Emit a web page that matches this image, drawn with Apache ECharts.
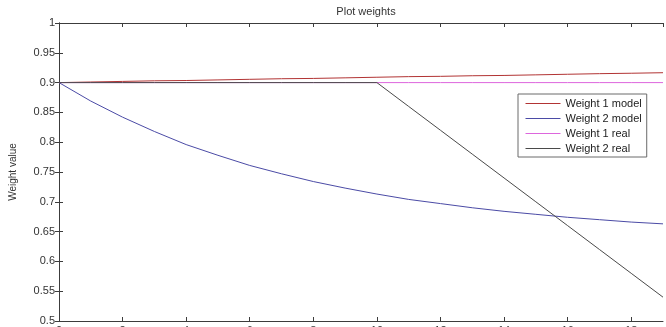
<!DOCTYPE html>
<html>
<head>
<meta charset="utf-8">
<script src="https://cdn.jsdelivr.net/npm/echarts@6/dist/echarts.min.js"></script>
<style>
  html, body { margin: 0; padding: 0; background: #fff; }
</style>
</head>
<body>
<div id="chart" style="width: 666px; height: 327px;"></div>
<script>
// x positions (step index)
var steps = [0, 1, 2, 3, 4, 5, 6, 7, 8, 9, 10, 11, 12, 13, 14, 15, 16, 17, 18, 19];

// values
var weight1Model = [0.900, 0.901, 0.902, 0.903, 0.9035, 0.9045, 0.9055, 0.9065, 0.907, 0.908,
                    0.909, 0.910, 0.9105, 0.9115, 0.912, 0.913, 0.914, 0.915, 0.9157, 0.9166];
var weight2Model = [0.900, 0.869, 0.842, 0.818, 0.796, 0.778, 0.761, 0.747, 0.734, 0.723,
                    0.713, 0.704, 0.697, 0.690, 0.684, 0.679, 0.674, 0.670, 0.666, 0.663];
var weight1Real = [0.9, 0.9, 0.9, 0.9, 0.9, 0.9, 0.9, 0.9, 0.9, 0.9,
                   0.9, 0.9, 0.9, 0.9, 0.9, 0.9, 0.9, 0.9, 0.9, 0.9];
var weight2Real = [0.9, 0.9, 0.9, 0.9, 0.9, 0.9, 0.9, 0.9, 0.9, 0.9,
                   0.9, 0.86, 0.82, 0.78, 0.74, 0.70, 0.66, 0.62, 0.58, 0.54];

var seriesNames = ["Weight 1 model", "Weight 2 model", "Weight 1 real", "Weight 2 real"];
var seriesColors = ["#b23434", "#4b4ba6", "#dd66dd", "#4a4a4a"];

function pairs(ys) {
  return steps.map(function (x, i) { return [x, ys[i]]; });
}

var font = "'Liberation Sans', Arial, sans-serif";
var frameColor = "#3c3c3c";

var chart = echarts.init(document.getElementById("chart"));

function line(name, ys, i) {
  return {
    name: name,
    type: "line",
    data: pairs(ys),
    symbol: "none",
    smooth: false,
    animation: false,
    lineStyle: { color: seriesColors[i], width: 1 },
    itemStyle: { color: seriesColors[i] },
  };
}

var legendItems = seriesNames.map(function (n, i) {
  return {
    name: n,
    lineStyle: { color: seriesColors[i], width: 1 },
    itemStyle: { color: seriesColors[i], opacity: 0 },
  };
});

chart.setOption({
  animation: false,
  backgroundColor: "#fff",
  title: {
    text: "Plot weights",
    left: 361,
    textAlign: "center",
    top: 1,
    textStyle: { fontFamily: font, fontSize: 11, fontWeight: "normal", color: "#333" },
  },
  legend: {
    data: legendItems,
    orient: "vertical",
    left: 518,
    top: 94,
    itemWidth: 35,
    itemHeight: 11,
    itemGap: 4,
    padding: [4, 5, 3, 7],
    borderColor: "#6a6a6a",
    borderWidth: 1,
    backgroundColor: "#fff",
    textStyle: { fontFamily: font, fontSize: 11, color: "#222" },
  },
  grid: { left: 59, right: 3, top: 23, bottom: 6, outerBoundsMode: "none" },
  xAxis: [
    {
      type: "value",
      min: 0,
      max: 19,
      interval: 2,
      axisLine: { show: true, lineStyle: { color: frameColor } },
      axisTick: { show: true, inside: true, length: 4, lineStyle: { color: frameColor } },
      axisLabel: { margin: 4, fontFamily: font, fontSize: 11, color: "#333", showMaxLabel: false },
      splitLine: { show: false },
    },
    {
      type: "value",
      position: "top",
      min: 0,
      max: 19,
      interval: 2,
      axisLine: { show: true, lineStyle: { color: frameColor } },
      axisTick: { show: true, inside: true, length: 4, lineStyle: { color: frameColor } },
      axisLabel: { show: false },
      splitLine: { show: false },
    },
  ],
  yAxis: [
    {
      type: "value",
      min: 0.5,
      max: 1,
      interval: 0.05,
      name: "Weight value",
      nameLocation: "middle",
      nameGap: 41,
      nameTextStyle: { fontFamily: font, fontSize: 10, color: "#333" },
      axisLine: { show: true, lineStyle: { color: frameColor } },
      axisTick: { show: true, inside: true, length: 4, lineStyle: { color: frameColor } },
      axisLabel: {
        margin: 4,
        fontFamily: font,
        fontSize: 11,
        color: "#333",
        formatter: function (v) { return String(+v.toFixed(2)); },
      },
      splitLine: { show: false },
    },
    {
      type: "value",
      position: "right",
      min: 0.5,
      max: 1,
      interval: 0.05,
      axisLine: { show: true, lineStyle: { color: frameColor } },
      axisTick: { show: true, inside: true, length: 4, lineStyle: { color: frameColor } },
      axisLabel: { show: false },
      splitLine: { show: false },
    },
  ],
  series: [
    line(seriesNames[0], weight1Model, 0),
    line(seriesNames[1], weight2Model, 1),
    line(seriesNames[2], weight1Real, 2),
    line(seriesNames[3], weight2Real, 3),
  ],
});
</script>
</body>
</html>
